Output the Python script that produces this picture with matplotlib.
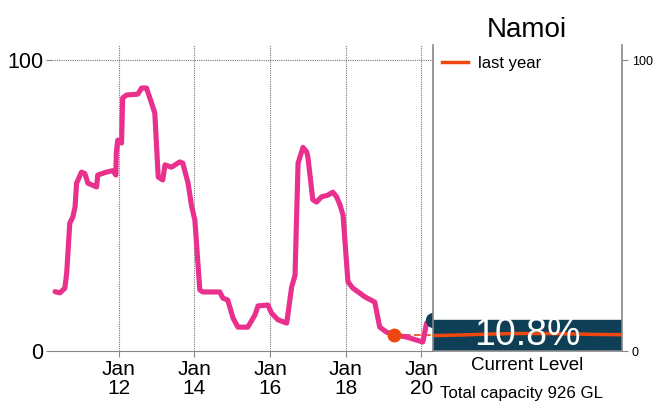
import matplotlib
matplotlib.use("Agg")
import matplotlib.pyplot as plt
import numpy as np

plt.rcParams['font.family'] = ['Liberation Sans', 'DejaVu Sans']

# ---- data ----
years = [2010.31, 2010.44, 2010.57, 2010.62, 2010.70, 2010.78, 2010.84, 2010.88,
         2011.01, 2011.10, 2011.18, 2011.41, 2011.44, 2011.67, 2011.84, 2011.92,
         2011.93, 2011.97, 2012.07, 2012.10, 2012.20, 2012.50, 2012.60, 2012.73,
         2012.87, 2012.95, 2013.04, 2013.16, 2013.22, 2013.39, 2013.61, 2013.69,
         2013.83, 2013.92, 2014.01, 2014.14, 2014.22, 2014.67, 2014.75, 2014.88,
         2015.02, 2015.15, 2015.41, 2015.60, 2015.68, 2015.94, 2016.04, 2016.21,
         2016.44, 2016.57, 2016.66, 2016.74, 2016.87, 2016.97, 2017.00, 2017.13,
         2017.23, 2017.36, 2017.53, 2017.66, 2017.76, 2017.85, 2017.93, 2018.06,
         2018.19, 2018.51, 2018.77, 2018.90, 2019.08, 2019.30, 2019.61, 2020.04,
         2020.14, 2020.25]
levels = [20.4, 20.0, 21.6, 27.0, 44.0, 46.0, 49.5, 57.7,
          61.5, 61.0, 57.7, 56.4, 60.5, 61.5, 62.0, 60.5,
          68.0, 72.5, 71.5, 87.0, 88.0, 88.3, 90.4, 90.4,
          85.0, 81.8, 59.8, 58.8, 64.0, 63.2, 65.0, 64.6,
          57.7, 50.0, 45.0, 21.0, 20.3, 20.3, 18.2, 17.5,
          11.3, 8.2, 8.2, 12.4, 15.5, 15.8, 13.0, 10.7,
          9.6, 22.0, 26.0, 64.6, 70.0, 68.4, 66.7, 52.0,
          51.2, 53.0, 53.6, 54.6, 53.0, 50.2, 46.7, 23.8,
          21.6, 18.6, 16.8, 8.2, 6.5, 5.5, 4.8, 3.1,
          9.6, 10.8]
last_year_date = 2019.28
last_year_value = 5.5
current_level = 10.8
last_year_curve = [5.3, 5.5, 5.8, 6.0, 6.0, 5.9, 5.7, 5.6]
tick_years = [2012, 2014, 2016, 2018, 2020]
tick_labels = ["Jan\n12", "Jan\n14", "Jan\n16", "Jan\n18", "Jan\n20"]
title = "Namoi"
capacity_text = "Total capacity 926 GL"

PINK = '#e8308c'
ORANGE = '#ef4710'
TEAL = '#0e3f56'

W, H = 654, 401
fig = plt.figure(figsize=(W / 100, H / 100), dpi=100)

def rect(l, r, t, b):
    return [l / W, 1 - b / H, (r - l) / W, (b - t) / H]

ax = fig.add_axes(rect(52, 433, 45, 351))
ax2 = fig.add_axes(rect(433, 622, 45, 351))

# main axis
ax.plot(years, levels, color=PINK, lw=3.7, solid_capstyle='round', solid_joinstyle='round', zorder=3)
ax.set_xlim(2010.23, 2020.31)
ax.set_ylim(0, 105.2)
ax.set_xticks(tick_years)
ax.set_xticklabels(tick_labels, fontsize=15, linespacing=0.98)
ax.set_yticks([0, 100])
ax.set_yticklabels(["0", "100"], fontsize=15.5)
for s in ['top', 'right', 'left']:
    ax.spines[s].set_visible(False)
ax.spines['bottom'].set_color('#888888')
ax.tick_params(axis='x', length=4, color='#888888', pad=2.5)
ax.tick_params(axis='y', length=4, color='#888888', pad=2)
for yr in tick_years:
    ax.axvline(yr, color='#777777', lw=0.8, ls=(0, (1, 1)), zorder=1)
ax.axhline(100, color='#777777', lw=0.8, ls=(0, (1, 1)), zorder=1)

# last year marker and dashed connector
ax.plot([last_year_date], [last_year_value], 'o', color=ORANGE, ms=9, zorder=4)
ax.plot([last_year_date, 2020.31], [last_year_value, last_year_value], color=ORANGE,
        lw=1.2, ls=(0, (4, 2)), zorder=2, clip_on=False)
# current level marker
ax.plot([years[-1] + 0.05], [current_level], 'o', color=TEAL, ms=10, zorder=5, clip_on=False)

# right panel
ax2.set_xlim(0, 1)
ax2.set_ylim(0, 105.2)
ax2.axhspan(0, current_level, color=TEAL, zorder=1)
xs = np.linspace(0, 1, len(last_year_curve))
ax2.plot(xs, last_year_curve, color=ORANGE, lw=2.5, label='last year', zorder=2)
ax2.set_xticks([])
ax2.yaxis.tick_right()
ax2.set_yticks([0, 100])
ax2.set_yticklabels(["0", "100"], fontsize=9)
ax2.tick_params(axis='y', length=4, color='#888888', pad=3)
ax2.spines['top'].set_visible(False)
for s in ['left', 'right', 'bottom']:
    ax2.spines[s].set_color('#888888')
    ax2.spines[s].set_linewidth(1.2)
leg = ax2.legend(loc='upper left', frameon=False, fontsize=12, handlelength=1.6,
                 borderaxespad=0.0, bbox_to_anchor=(0.01, 0.985), handletextpad=0.6)

ax2.text(0.5, 2.0, f"{current_level}%", color='white', fontsize=27,
         ha='center', va='baseline', zorder=3)
fig.text(527 / W, 1 - 370 / H, "Current Level", fontsize=13.5, ha='center', va='baseline')
fig.text(440 / W, 1 - 398 / H, capacity_text, fontsize=12.2, ha='left', va='baseline')
fig.text(527 / W, 1 - 37 / H, title, fontsize=20, ha='center', va='baseline')

fig.savefig("out.png", dpi=100)
